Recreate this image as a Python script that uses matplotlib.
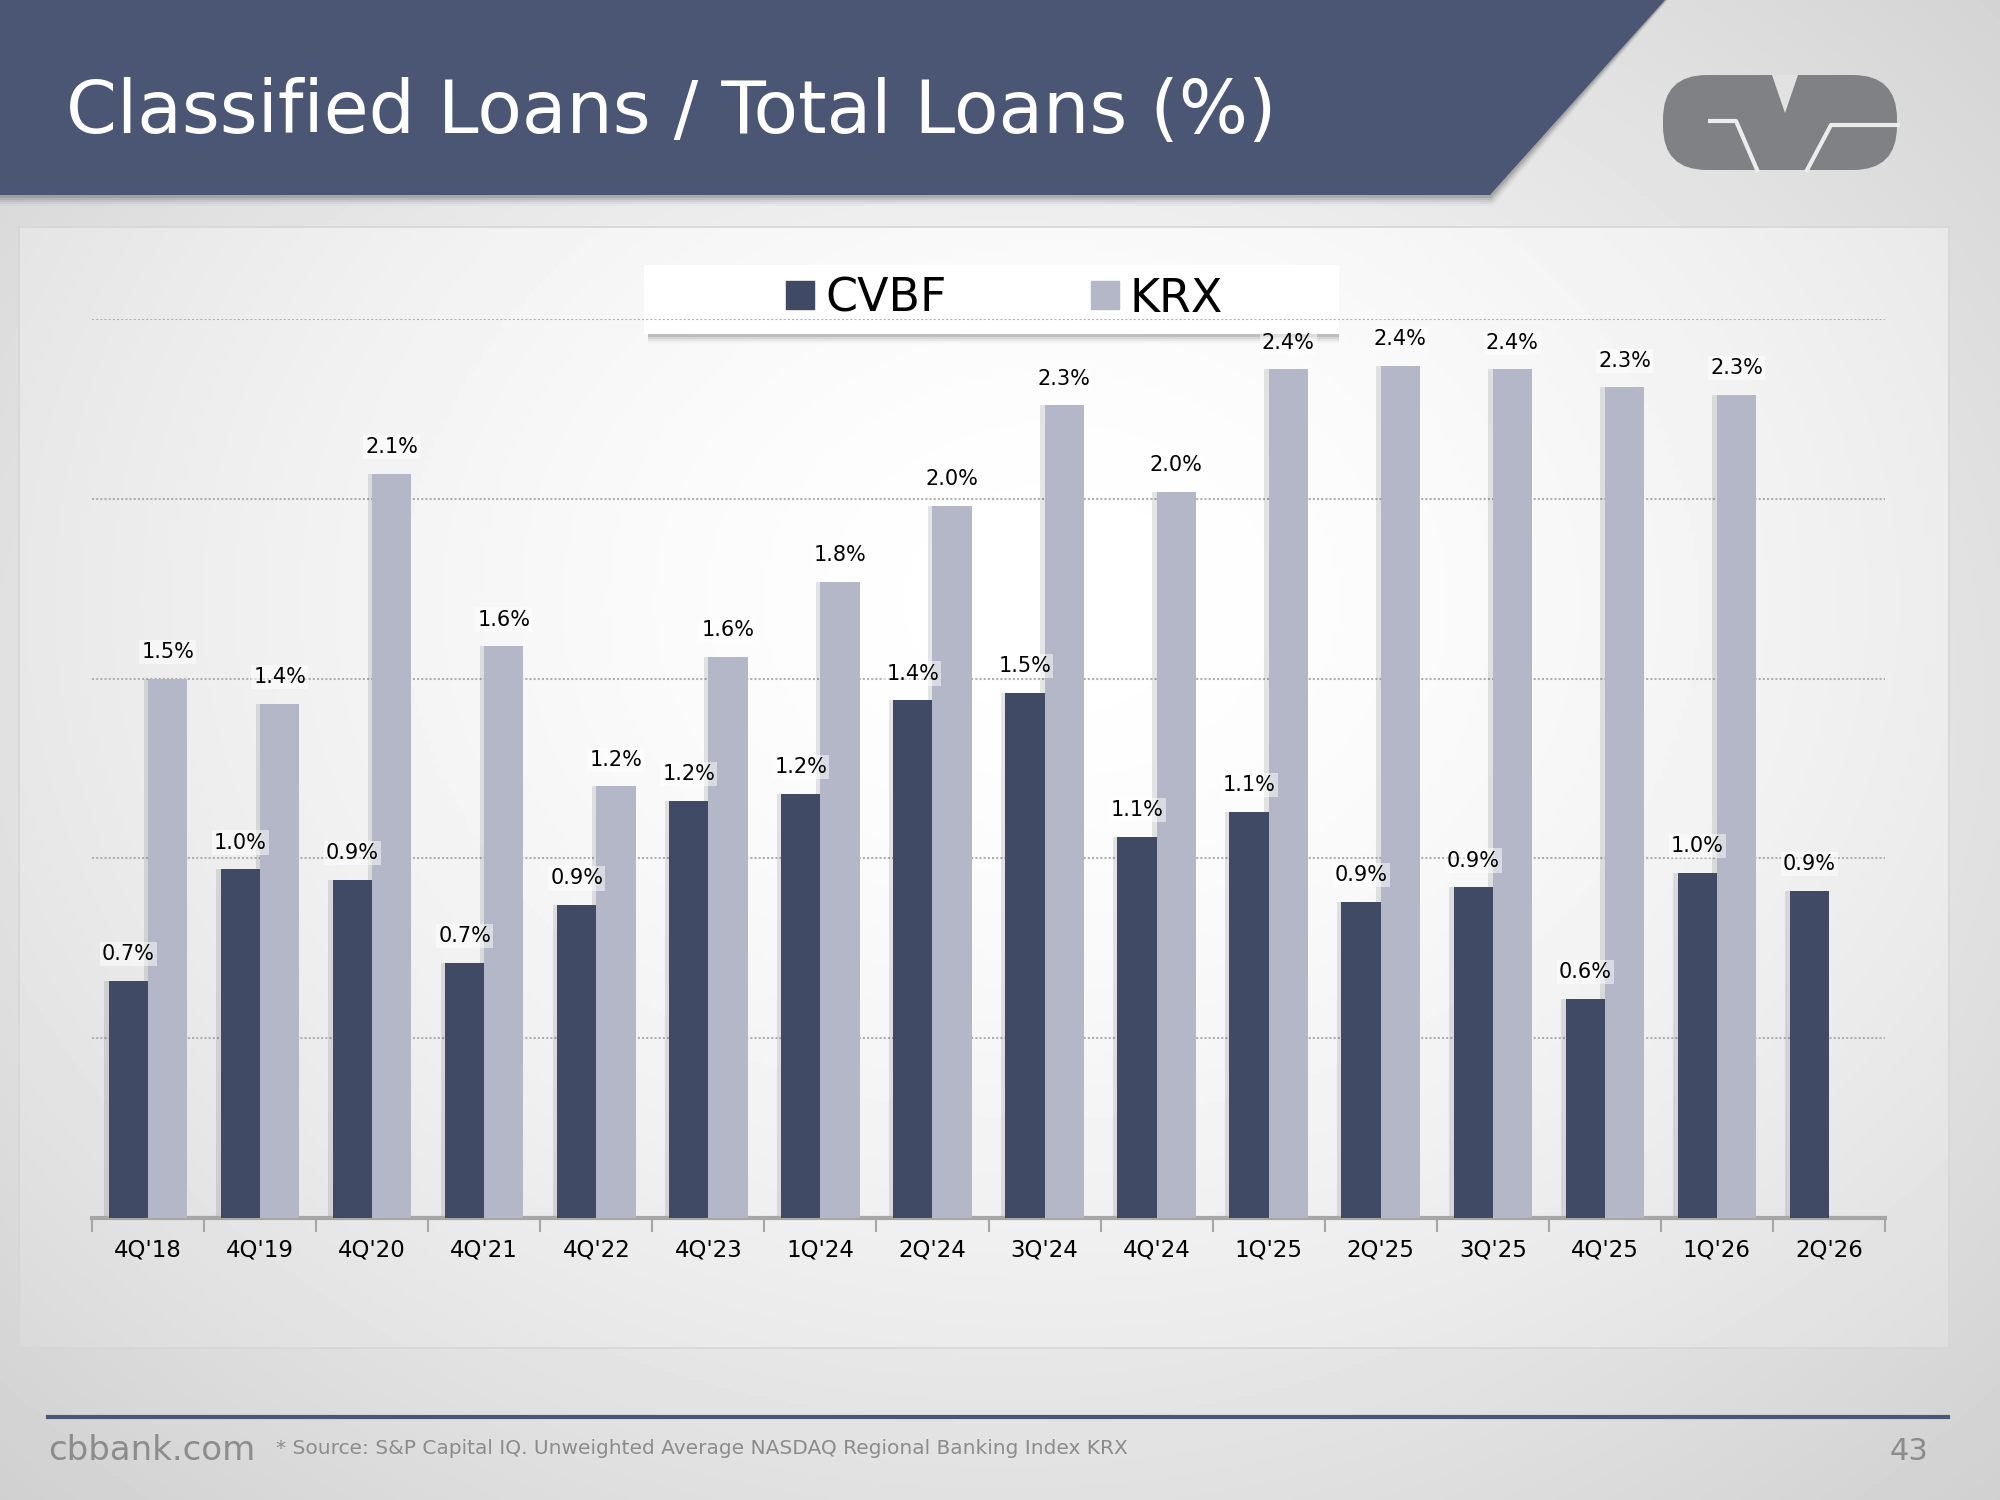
import numpy as np
import matplotlib
matplotlib.use("Agg")
import matplotlib.pyplot as plt
from matplotlib.patches import Polygon, Rectangle, FancyBboxPatch
from matplotlib.lines import Line2D
from matplotlib import font_manager

plt.rcParams["font.family"] = "DejaVu Sans"

# --- data (ratio of classified loans to total loans, %) ---
quarters = ["4Q'18", "4Q'19", "4Q'20", "4Q'21", "4Q'22", "4Q'23", "1Q'24", "2Q'24",
            "3Q'24", "4Q'24", "1Q'25", "2Q'25", "3Q'25", "4Q'25", "1Q'26", "2Q'26"]
cvbf = [0.66, 0.97, 0.94, 0.71, 0.87, 1.16, 1.18, 1.44,
        1.46, 1.06, 1.13, 0.88, 0.92, 0.61, 0.96, 0.91]
krx = [1.50, 1.43, 2.07, 1.59, 1.20, 1.56, 1.77, 1.98,
       2.26, 2.02, 2.36, 2.37, 2.36, 2.31, 2.29]   # no KRX figure for 2Q'26

BANNER = "#4b5675"
DARK = "#414a65"
LIGHT = "#b4b7c7"
GREY_TXT = "#8c8c8c"

names = {f.name for f in font_manager.fontManager.ttflist}
NARROW = "Liberation Sans Narrow" if "Liberation Sans Narrow" in names else "DejaVu Sans"

fig = plt.figure(figsize=(20, 15), dpi=100)

# background / decoration layer in pixel coordinates
bg = fig.add_axes([0, 0, 1, 1], zorder=0)
bg.set_xlim(0, 2000)
bg.set_ylim(1500, 0)
bg.axis("off")

yy, xx = np.mgrid[0:1500:4, 0:2000:4]
r = np.sqrt(((xx - 1000) / 1000) ** 2 + ((yy - 700) / 800) ** 2) / np.sqrt(2)
slide = 0.985 - 0.17 * r ** 1.4
bg.imshow(slide, extent=[0, 2000, 1500, 0], cmap="gray", vmin=0, vmax=1,
          aspect="auto", zorder=0)

# chart panel
yy2, xx2 = np.mgrid[227:1348:4, 19:1949:4]
r2 = np.sqrt(((xx2 - 1050) / 1000) ** 2 + ((yy2 - 600) / 800) ** 2) / np.sqrt(2)
panel = 1.0 - 0.15 * r2 ** 1.6
bg.imshow(panel, extent=[19, 1949, 1348, 227], cmap="gray", vmin=0, vmax=1,
          aspect="auto", zorder=1)
bg.add_patch(Rectangle((19, 227), 1930, 1121, fill=False, ec="#d6d6d6", lw=1.2, zorder=2))

# title banner with soft shadow
for k, a in enumerate([0.10, 0.08, 0.06, 0.04, 0.02]):
    d = 3 + 2 * k
    bg.add_patch(Polygon([(0, 0), (1665 + d * 0.3, 0), (1490 + d * 0.3, 195 + d), (0, 195 + d)],
                         closed=True, fc="black", ec="none", alpha=a, zorder=3))
bg.add_patch(Polygon([(0, 0), (1665, 0), (1490, 195), (0, 195)],
                     closed=True, fc=BANNER, ec="none", zorder=4))
bg.text(66, 112, "Classified Loans / Total Loans (%)", color="white", fontsize=52.5,
        ha="left", va="center", zorder=5)

# CVB logo
bg.add_patch(FancyBboxPatch((1663, 75), 234, 95, boxstyle="round,pad=0,rounding_size=44",
                            fc="#808184", ec="none", zorder=4))
bg.add_patch(Polygon([(1772, 75), (1785, 113), (1798, 75)], closed=True,
                     fc="#e2e2e2", ec="none", zorder=5))
bg.plot([1708, 1736, 1758], [121, 121, 172], color="#ececec", lw=3, zorder=5,
        solid_capstyle="butt")
bg.plot([1806, 1831, 1900], [172, 125, 125], color="#ececec", lw=3, zorder=5,
        solid_capstyle="butt")

# legend box with shadow
for k, a in enumerate([0.10, 0.07, 0.05, 0.03]):
    d = 3 + 2 * k
    bg.add_patch(Rectangle((644 + 4, 265 + d), 695 - 4, 69, fc="black", ec="none",
                           alpha=a, zorder=3))
bg.add_patch(Rectangle((644, 265), 695, 69, fc="white", ec="none", zorder=4))

# footer
bg.plot([48, 1948], [1417, 1417], color=BANNER, lw=3, zorder=4)
bg.text(48, 1451, "cbbank.com", color=GREY_TXT, fontsize=24.5, ha="left", va="center", zorder=5)
bg.text(276, 1449, "* Source: S&P Capital IQ. Unweighted Average NASDAQ Regional Banking Index KRX",
        color=GREY_TXT, fontsize=14.5, ha="left", va="center", zorder=5)
bg.text(1928, 1451, "43", color=GREY_TXT, fontsize=22, ha="right", va="center", zorder=5)

# --- chart ---
ax = fig.add_axes([92 / 2000, 1 - 1218 / 1500, (1885 - 92) / 2000, (1218 - 319) / 1500], zorder=2)
ax.patch.set_alpha(0)

x = np.arange(len(quarters))
w = 0.35
xc = x - w / 2
xk = np.arange(len(krx)) + w / 2

# faint shadows on the left side of the bars
ax.bar(xc - 0.04, cvbf, width=w, color="black", alpha=0.10, zorder=2, linewidth=0)
ax.bar(xk - 0.04, krx, width=w, color="black", alpha=0.10, zorder=2, linewidth=0)
ax.bar(xc, cvbf, width=w, color=DARK, zorder=3, linewidth=0, label="CVBF")
ax.bar(xk, krx, width=w, color=LIGHT, zorder=3, linewidth=0, label="KRX")

for xi, v in zip(xc, cvbf):
    ax.annotate(f"{v:.1f}%", (xi, v), xytext=(0, 12), textcoords="offset points",
                ha="center", va="bottom", fontsize=15, color="black", zorder=6,
                bbox=dict(boxstyle="square,pad=0.1", fc="white", ec="none", alpha=0.5))
for xi, v in zip(xk, krx):
    ax.annotate(f"{v:.1f}%", (xi, v), xytext=(0, 12), textcoords="offset points",
                ha="center", va="bottom", fontsize=15, color="black", zorder=6,
                bbox=dict(boxstyle="square,pad=0.1", fc="white", ec="none", alpha=0.5))

ax.set_xlim(-0.5, len(quarters) - 0.5)
ax.set_ylim(0, 2.5)
ax.set_yticks([0.5, 1.0, 1.5, 2.0, 2.5])
ax.tick_params(axis="y", left=False, labelleft=False)
ax.grid(axis="y", color="#b0b0b0", linestyle=(0, (1, 1)), linewidth=1.5, zorder=1)
ax.set_axisbelow(True)

ax.set_xticks(x)
ax.set_xticklabels(quarters, fontsize=16.5)
ax.tick_params(axis="x", length=0, pad=15)
ax.set_xticks(np.arange(len(quarters) + 1) - 0.5, minor=True)
ax.tick_params(axis="x", which="minor", length=10, width=1.5, color="#a6a6a6", direction="out")

for s in ["top", "right", "left"]:
    ax.spines[s].set_visible(False)
ax.spines["bottom"].set_color("#a6a6a6")
ax.spines["bottom"].set_linewidth(3)

handles = [Line2D([], [], marker="s", linestyle="none", markersize=20, color=DARK),
           Line2D([], [], marker="s", linestyle="none", markersize=20, color=LIGHT)]
leg = ax.legend(handles, ["CVBF", "KRX"], ncol=2, frameon=False, loc="center",
                bbox_to_anchor=((1000 - 92) / 1793, (1218 - 299) / (1218 - 319)),
                prop={"family": NARROW, "size": 33}, handletextpad=0.05,
                columnspacing=2.95, handlelength=1.0)

fig.savefig("out.png", dpi=100)
